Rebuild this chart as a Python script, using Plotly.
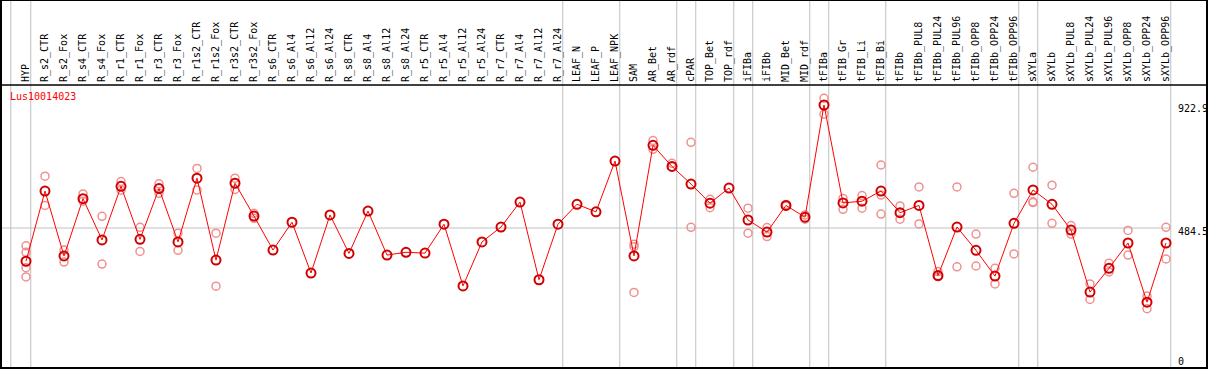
import plotly.graph_objects as go

# ---------------- data ----------------
categories = [
    "HYP",
    "R_s2_CTR", "R_s2_Fox", "R_s4_CTR", "R_s4_Fox", "R_r1_CTR", "R_r1_Fox",
    "R_r3_CTR", "R_r3_Fox", "R_r1s2_CTR", "R_r1s2_Fox", "R_r3s2_CTR", "R_r3s2_Fox",
    "R_s6_CTR", "R_s6_Al4", "R_s6_Al12", "R_s6_Al24",
    "R_s8_CTR", "R_s8_Al4", "R_s8_Al12", "R_s8_Al24",
    "R_r5_CTR", "R_r5_Al4", "R_r5_Al12", "R_r5_Al24",
    "R_r7_CTR", "R_r7_Al4", "R_r7_Al12", "R_r7_Al24",
    "LEAF_N", "LEAF_P", "LEAF_NPK",
    "SAM", "AR_Bet", "AR_rdf",
    "cPAR",
    "TOP_Bet", "TOP_rdf",
    "iFIBa",
    "iFIBb", "MID_Bet", "MID_rdf",
    "tFIBa",
    "tFIB_Gr", "tFIB_Li", "tFIB_Bi",
    "tFIBb", "tFIBb_PUL8", "tFIBb_PUL24", "tFIBb_PUL96", "tFIBb_OPP8", "tFIBb_OPP24", "tFIBb_OPP96",
    "sXYLa",
    "sXYLb", "sXYLb_PUL8", "sXYLb_PUL24", "sXYLb_PUL96", "sXYLb_OPP8", "sXYLb_OPP24", "sXYLb_OPP96",
]

group_sizes = [1, 28, 3, 3, 1, 2, 1, 3, 1, 3, 7, 1, 7]

means = [
    366,
    616, 385, 589, 442, 633, 444,
    625, 435, 662, 370, 644, 527,
    406, 505, 324, 531,
    394, 545, 388, 398,
    395, 498, 278, 435,
    488, 577, 300, 498,
    569, 542, 723,
    385, 779, 704,
    641,
    573, 627,
    513,
    470, 565, 523,
    922.9,
    574, 580, 616,
    539, 565, 315, 488, 405, 313, 501,
    620,
    569, 477, 256, 341, 431, 220, 431,
]

replicates = [
    [421, 398, 343, 310],
    [669, 565], [406, 363], [606, 580], [526, 356], [650, 619], [487, 401],
    [642, 608], [466, 405], [697, 620], [466, 277], [662, 622], [537, 519],
    [], [], [], [],
    [], [], [], [],
    [], [], [], [],
    [], [], [], [],
    [], [], [],
    [427, 418, 255], [796, 765], [715, 703],
    [790, 487],
    [587, 557], [],
    [555, 466],
    [486, 454], [568, 562], [531, 516],
    [947, 890],
    [590, 551], [600, 555], [709, 602, 534],
    [563, 516], [631, 499], [329, 311], [631, 346], [463, 349], [341, 285], [608, 392],
    [701, 578, 575],
    [637, 501], [493, 463], [285, 230], [359, 328], [476, 388], [242, 197], [487, 374],
]

gene_id = "Lus10014023"
y_label_vals = [922.9, 484.5, 0]
y_label_text = ["922.9", "484.5", "0"]

# ---------------- geometry ----------------
W, H = 1209, 370
ML, MR, MT, MB = 1, 2, 85, 2
plot_w = W - ML - MR
plot_h = H - MT - MB
step = 19.0
x0_px = 26.0
x_range = [-(x0_px - ML) / step, -(x0_px - ML) / step + plot_w / step]
px_per_unit = 0.28056
y_top_val = 922.9 + (105 - MT) / px_per_unit
y_range = [y_top_val - plot_h / px_per_unit, y_top_val]


def py_paper(py):
    return (H - MB - py) / plot_h


def px_paper(px):
    return (px - ML) / plot_w


x_idx = list(range(len(categories)))

fig = go.Figure()

# replicate points
rx, ry = [], []
for i, reps in enumerate(replicates):
    for v in reps:
        rx.append(i)
        ry.append(v)
fig.add_trace(go.Scatter(
    x=rx, y=ry, mode="markers",
    marker=dict(symbol="circle-open", size=8, color="#f09090", line=dict(width=1.5)),
    hoverinfo="skip", showlegend=False,
))

# mean line
fig.add_trace(go.Scatter(
    x=x_idx, y=means, mode="lines+markers",
    line=dict(color="#ff0000", width=1),
    marker=dict(symbol="circle-open", size=9, color="#d00000", line=dict(width=2)),
    showlegend=False,
))

shapes = []
ytop = py_paper(0)
# separators
seps = [-0.8]
acc = -1
for g in group_sizes:
    acc += g
    seps.append(acc + 0.25)
for s in seps:
    shapes.append(dict(type="line", xref="x", yref="paper", x0=s, x1=s, y0=0, y1=ytop,
                       line=dict(color="#c0c0c0", width=1), layer="below"))
# horizontal reference line
shapes.append(dict(type="line", xref="paper", yref="y", x0=0, x1=px_paper(1170),
                   y0=y_label_vals[1], y1=y_label_vals[1],
                   line=dict(color="#c0c0c0", width=1), layer="below"))
# frame
shapes.append(dict(type="rect", xref="paper", yref="paper", x0=0, x1=1, y0=0, y1=ytop,
                   line=dict(color="black", width=2)))
shapes.append(dict(type="line", xref="paper", yref="paper", x0=0, x1=1, y0=1, y1=1,
                   line=dict(color="black", width=1.5)))

annotations = [dict(
    text=gene_id, xref="paper", yref="paper", x=px_paper(8), y=py_paper(97),
    xanchor="left", yanchor="middle", showarrow=False,
    font=dict(family="DejaVu Sans Mono", size=10, color="red"),
)]
for v, t in zip(y_label_vals, y_label_text):
    annotations.append(dict(
        text=t, xref="paper", yref="y", x=px_paper(1176), y=v,
        xanchor="left", yanchor="middle", yshift=2 if v == 0 else -3,
        showarrow=False,
        font=dict(family="DejaVu Sans Mono", size=10, color="black"),
    ))

fig.update_layout(
    width=W, height=H,
    margin=dict(l=ML, r=MR, t=MT, b=MB, pad=0),
    paper_bgcolor="white", plot_bgcolor="white",
    shapes=shapes, annotations=annotations,
    xaxis=dict(
        range=x_range, side="top", tickmode="array", tickvals=x_idx, ticktext=categories,
        tickangle=-90, showgrid=False, zeroline=False, showline=False, ticks="",
        ticklabelstandoff=2,
        tickfont=dict(family="DejaVu Sans Mono", size=10, color="black"),
        fixedrange=True,
    ),
    yaxis=dict(range=y_range, showgrid=False, zeroline=False, showline=False,
               showticklabels=False, ticks="", fixedrange=True),
)

fig.write_html(
    "out.html",
    config={"displayModeBar": False},
    post_script="document.body.style.margin='0';document.body.style.overflow='hidden';",
)
